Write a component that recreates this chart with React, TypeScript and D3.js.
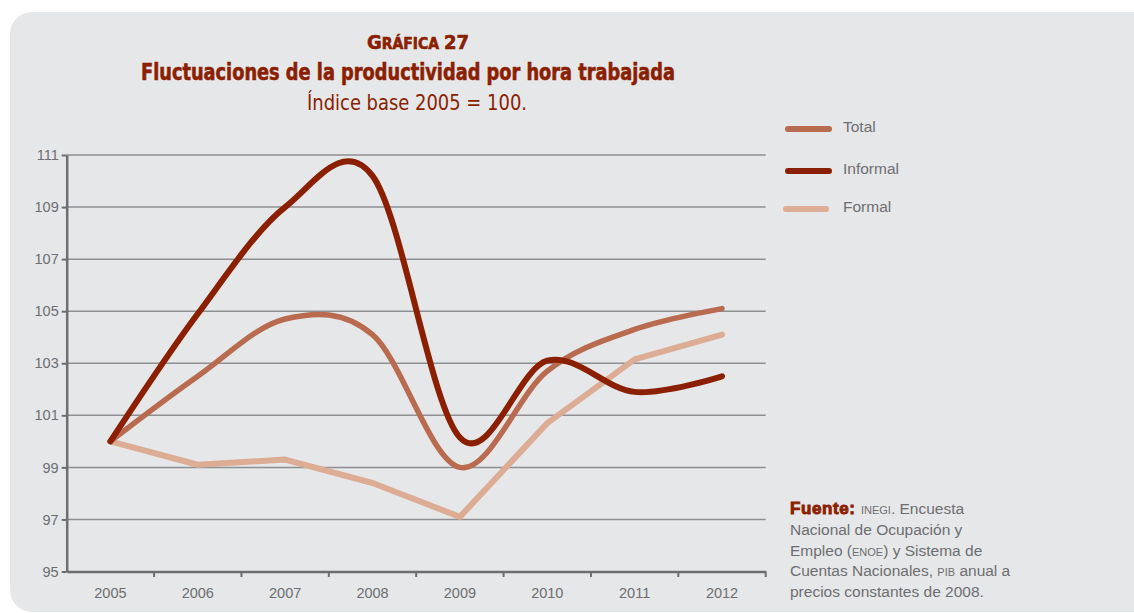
import * as React from "react";
import * as d3 from "d3";
import { useEffect, useRef } from "react";

const years = ["2005", "2006", "2007", "2008", "2009", "2010", "2011", "2012"];
const totalValues = [100, 102.5, 104.7, 104.1, 99.0, 102.7, 104.3, 105.1];
const informalValues = [100, 104.9, 109.0, 110.2, 100.15, 103.1, 101.9, 102.5];
const formalValues = [100, 99.1, 99.3, 98.4, 97.1, 100.7, 103.15, 104.1];
const yTicks = [95, 97, 99, 101, 103, 105, 107, 109, 111];

const seriesNames = ["Total", "Informal", "Formal"];
const seriesColors = ["#b96b4f", "#8b1f02", "#ddac94"];

const sourceLines = [
  ["INEGI", ". Encuesta"],
  ["Nacional de Ocupación y"],
  ["Empleo (", "ENOE", ") y Sistema de"],
  ["Cuentas Nacionales, ", "PIB", " anual a"],
  ["precios constantes de 2008."],
];

function drawChart(svgRef: React.RefObject<SVGSVGElement>) {
  const svg = d3.select(svgRef.current);
  svg.selectAll("*").remove();
  const width = 1134;
  const height = 613;
  svg.attr("width", width).attr("height", height);

  const red = "#8b1f02";
  const gray = "#6d6e71";

  // panel
  svg
    .append("rect")
    .attr("x", 10)
    .attr("y", 12)
    .attr("width", 1200)
    .attr("height", 600)
    .attr("rx", 22)
    .attr("fill", "#e6e7e9");

  const xScale = d3.scaleBand().domain(years).range([66.7, 765.7]).padding(0);
  const yScale = d3.scaleLinear().domain([95, 111]).range([571.5, 155]);
  const xc = (y: string) => xScale(y)! + xScale.bandwidth() / 2;

  // gridlines
  svg
    .append("g")
    .selectAll("line")
    .data(yTicks.filter((t) => t > 95))
    .enter()
    .append("line")
    .attr("x1", 66.7)
    .attr("x2", 765.7)
    .attr("y1", (d) => yScale(d))
    .attr("y2", (d) => yScale(d))
    .attr("stroke", "#8e8f92")
    .attr("stroke-width", 1.5);

  // y axis
  const yAxis = d3
    .axisLeft(yScale)
    .tickValues(yTicks)
    .tickSize(5)
    .tickSizeOuter(0)
    .tickPadding(3)
    .tickFormat((d) => String(d));
  const gy = svg
    .append("g")
    .attr("transform", "translate(66.7,0)")
    .call(yAxis);
  gy.select(".domain").attr("stroke", gray).attr("stroke-width", 2.5);
  gy.selectAll(".tick line").attr("stroke", gray).attr("stroke-width", 2);
  gy.selectAll(".tick text")
    .attr("fill", gray)
    .attr("font-family", '"Liberation Sans", Arial, sans-serif')
    .attr("font-size", 14.5);

  // x axis
  const xAxis = d3.axisBottom(xScale).tickSize(0).tickPadding(16);
  const gx = svg
    .append("g")
    .attr("transform", "translate(0,571.5)")
    .call(xAxis);
  gx.select(".domain").attr("stroke", gray).attr("stroke-width", 2.5);
  gx.selectAll(".tick text")
    .attr("fill", gray)
    .attr("font-family", '"Liberation Sans", Arial, sans-serif')
    .attr("font-size", 14.5);
  // ticks at band boundaries
  const bounds = years.map((y) => xScale(y)!).concat([xScale.range()[1]]);
  svg
    .append("g")
    .selectAll("line")
    .data(bounds.slice(1))
    .enter()
    .append("line")
    .attr("x1", (d) => d)
    .attr("x2", (d) => d)
    .attr("y1", 571.5)
    .attr("y2", 577)
    .attr("stroke", gray)
    .attr("stroke-width", 2);

  // lines
  const smooth = d3
    .line<number>()
    .x((_, i) => xc(years[i]))
    .y((d) => yScale(d))
    .curve(d3.curveCardinal.tension(0));
  const straight = d3
    .line<number>()
    .x((_, i) => xc(years[i]))
    .y((d) => yScale(d));

  svg
    .append("path")
    .attr("d", straight(formalValues)!)
    .attr("fill", "none")
    .attr("stroke", seriesColors[2])
    .attr("stroke-width", 6)
    .attr("stroke-linecap", "round")
    .attr("stroke-linejoin", "round");
  svg
    .append("path")
    .attr("d", smooth(totalValues)!)
    .attr("fill", "none")
    .attr("stroke", seriesColors[0])
    .attr("stroke-width", 5.5)
    .attr("stroke-linecap", "round");
  svg
    .append("path")
    .attr("d", smooth(informalValues)!)
    .attr("fill", "none")
    .attr("stroke", seriesColors[1])
    .attr("stroke-width", 6)
    .attr("stroke-linecap", "round");

  // legend
  const legendY = [129, 171, 209];
  const legend = svg
    .append("g")
    .selectAll("g")
    .data(seriesNames)
    .enter()
    .append("g")
    .attr("transform", (_, i) => `translate(0,${legendY[i]})`);
  legend
    .append("line")
    .attr("x1", (_, i) => (i === 2 ? 786 : 788))
    .attr("x2", (_, i) => (i === 2 ? 826 : 829))
    .attr("stroke", (_, i) => seriesColors[i])
    .attr("stroke-width", 6)
    .attr("stroke-linecap", "round");
  legend
    .append("text")
    .attr("x", 843)
    .attr("y", 3)
    .attr("fill", gray)
    .attr("font-family", '"Liberation Sans", Arial, sans-serif')
    .attr("font-size", 15.5)
    .text((d) => d);

  // titles
  const condensed = '"Liberation Sans Narrow", "DejaVu Sans Condensed", sans-serif';
  const t1 = svg
    .append("text")
    .attr("x", 418)
    .attr("y", 49)
    .attr("text-anchor", "middle")
    .attr("fill", red)
    .attr("stroke", red)
    .attr("stroke-width", 0.6)
    .attr("font-family", condensed)
    .attr("font-weight", "bold");
  t1.append("tspan").attr("font-size", 20).text("G");
  t1.append("tspan").attr("font-size", 15.5).text("RÁFICA ");
  t1.append("tspan").attr("font-size", 20).text("27");

  svg
    .append("text")
    .attr("x", 141)
    .attr("y", 80)
    .attr("fill", red)
    .attr("stroke", red)
    .attr("stroke-width", 0.6)
    .attr("font-family", condensed)
    .attr("font-weight", "bold")
    .attr("font-size", 23)
    .attr("textLength", 534)
    .attr("lengthAdjust", "spacingAndGlyphs")
    .text("Fluctuaciones de la productividad por hora trabajada");

  svg
    .append("text")
    .attr("x", 307)
    .attr("y", 110)
    .attr("fill", red)
    .attr("font-family", condensed)
    .attr("font-size", 22)
    .attr("textLength", 220)
    .attr("lengthAdjust", "spacingAndGlyphs")
    .text("Índice base 2005 = 100.");

  // source note
  const src = svg
    .append("text")
    .attr("fill", gray)
    .attr("font-family", '"Liberation Sans", Arial, sans-serif')
    .attr("font-size", 15.5);
  sourceLines.forEach((parts, li) => {
    const y = 514 + li * 20.8;
    if (li === 0) {
      src
        .append("tspan")
        .attr("x", 790)
        .attr("y", y)
        .attr("fill", red)
        .attr("font-weight", "bold")
        .attr("stroke", red)
        .attr("stroke-width", 0.9)
        .attr("font-size", 17)
        .attr("letter-spacing", 0.6)
        .text("Fuente: ");
    }
    parts.forEach((p, pi) => {
      const small = p === "INEGI" || p === "ENOE" || p === "PIB";
      const ts = src.append("tspan").text(p);
      if (pi === 0 && li !== 0) ts.attr("x", 790).attr("y", y);
      if (small) ts.attr("font-size", 11);
    });
  });
}

export default function App() {
  const svg = useRef<SVGSVGElement>(null);
  useEffect(() => {
    drawChart(svg);
  }, []);
  return (
    <div style={{ position: "absolute", left: 0, top: 0 }}>
      <svg ref={svg} style={{ display: "block" }} />
    </div>
  );
}
